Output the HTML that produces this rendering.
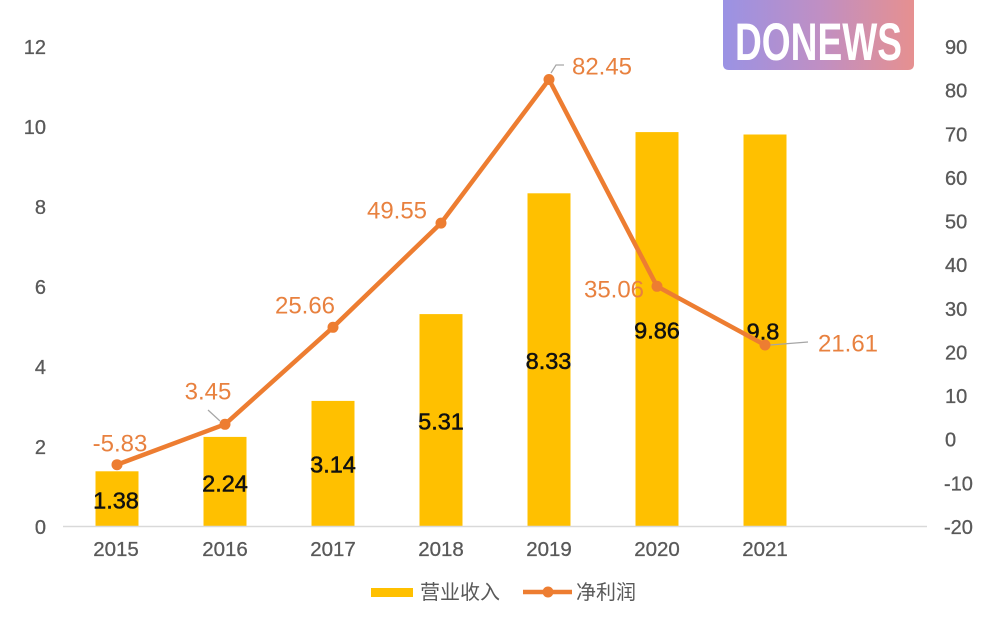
<!DOCTYPE html>
<html>
<head>
<meta charset="utf-8">
<style>
html,body{margin:0;padding:0;background:#fff;}
svg{display:block;}
</style>
</head>
<body>
<svg width="1000" height="625" viewBox="0 0 1000 625" xmlns="http://www.w3.org/2000/svg">
<defs>
<linearGradient id="lg" x1="0" y1="0" x2="1" y2="0">
<stop offset="0" stop-color="#9A92E4"/>
<stop offset="0.5" stop-color="#BF8FC4"/>
<stop offset="1" stop-color="#E69090"/>
</linearGradient>
</defs>
<rect width="1000" height="625" fill="#fff"/>

<!-- logo -->
<path d="M723 0 H914 V64 Q914 70 908 70 H729 Q723 70 723 64 Z" fill="url(#lg)"/>
<text x="735" y="60" font-family="Liberation Sans Narrow, Liberation Sans, sans-serif" font-weight="bold" font-size="53" fill="#fff" textLength="167" lengthAdjust="spacingAndGlyphs">DONEWS</text>

<!-- left axis labels -->
<g font-family="Liberation Sans, sans-serif" font-size="20" fill="#595959" stroke="#595959" stroke-width="0.3" text-anchor="end">
<text x="46" y="54">12</text>
<text x="46" y="134">10</text>
<text x="46" y="214">8</text>
<text x="46" y="294">6</text>
<text x="46" y="374">4</text>
<text x="46" y="454">2</text>
<text x="46" y="534">0</text>
</g>
<!-- right axis labels -->
<g font-family="Liberation Sans, sans-serif" font-size="20" fill="#595959" stroke="#595959" stroke-width="0.3" text-anchor="start">
<text x="945" y="54">90</text>
<text x="945" y="97.6">80</text>
<text x="945" y="141.3">70</text>
<text x="945" y="184.9">60</text>
<text x="945" y="228.5">50</text>
<text x="945" y="272.2">40</text>
<text x="945" y="315.8">30</text>
<text x="945" y="359.4">20</text>
<text x="945" y="403.1">10</text>
<text x="945" y="446.7">0</text>
<text x="944" y="490.3">-10</text>
<text x="944" y="534">-20</text>
</g>

<!-- bars -->
<g fill="#FFC000">
<rect x="95.5" y="471.3" width="43" height="55.2"/>
<rect x="203.5" y="436.9" width="43" height="89.6"/>
<rect x="311.5" y="400.9" width="43" height="125.6"/>
<rect x="419.5" y="314.1" width="43" height="212.4"/>
<rect x="527.5" y="193.3" width="43" height="333.2"/>
<rect x="635.5" y="132.1" width="43" height="394.4"/>
<rect x="743.5" y="134.5" width="43" height="392"/>
</g>

<!-- x axis -->
<line x1="63" y1="526.5" x2="927" y2="526.5" stroke="#D9D9D9" stroke-width="1.5"/>
<g font-family="Liberation Sans, sans-serif" font-size="20.5" fill="#595959" stroke="#595959" stroke-width="0.3" text-anchor="middle">
<text x="116" y="556">2015</text>
<text x="225" y="556">2016</text>
<text x="333" y="556">2017</text>
<text x="441" y="556">2018</text>
<text x="549" y="556">2019</text>
<text x="657" y="556">2020</text>
<text x="765" y="556">2021</text>
</g>

<!-- bar labels -->
<g font-family="Liberation Sans, sans-serif" font-size="23.5" fill="#111" stroke="#111" stroke-width="0.5" text-anchor="middle">
<text x="116" y="508.5">1.38</text>
<text x="225" y="491.5">2.24</text>
<text x="333" y="472.5">3.14</text>
<text x="441" y="429.5">5.31</text>
<text x="548.5" y="369">8.33</text>
<text x="657" y="338.5">9.86</text>
<text x="763" y="339.5">9.8</text>
</g>

<!-- leader lines -->
<g stroke="#A6A6A6" stroke-width="1.2" fill="none">
<polyline points="208,410 220,421"/>
<polyline points="551,73 556,65 564,65"/>
<polyline points="770,345 808,342"/>
</g>

<!-- line series -->
<polyline points="117,464.7 225,424.3 333,327.3 441,223.1 549,79.5 657,286.3 765,345" fill="none" stroke="#ED7D31" stroke-width="4.5" stroke-linejoin="round"/>
<g fill="#ED7D31">
<circle cx="117" cy="464.7" r="5.5"/>
<circle cx="225" cy="424.3" r="5.5"/>
<circle cx="333" cy="327.3" r="5.5"/>
<circle cx="441" cy="223.1" r="5.5"/>
<circle cx="549" cy="79.5" r="5.5"/>
<circle cx="657" cy="286.3" r="5.5"/>
<circle cx="765" cy="345" r="5.5"/>
</g>

<!-- line labels -->
<g font-family="Liberation Sans, sans-serif" font-size="24" fill="#E8813F" text-anchor="middle">
<text x="120" y="451.6">-5.83</text>
<text x="208" y="399.6">3.45</text>
<text x="305" y="313.6">25.66</text>
<text x="397" y="218.6">49.55</text>
<text x="602" y="74.6">82.45</text>
<text x="614" y="297.6">35.06</text>
<text x="848" y="351.6">21.61</text>
</g>

<!-- legend -->
<rect x="371" y="588" width="42" height="9" fill="#FFC000"/>
<text x="420" y="599" font-family="Liberation Sans, 'Noto Sans CJK SC', sans-serif" font-size="20" fill="#595959">营业收入</text>
<line x1="523" y1="592" x2="572" y2="592" stroke="#ED7D31" stroke-width="4.5"/>
<circle cx="548" cy="592" r="5.5" fill="#ED7D31"/>
<text x="576" y="599" font-family="Liberation Sans, 'Noto Sans CJK SC', sans-serif" font-size="20" fill="#595959">净利润</text>
</svg>
</body>
</html>
